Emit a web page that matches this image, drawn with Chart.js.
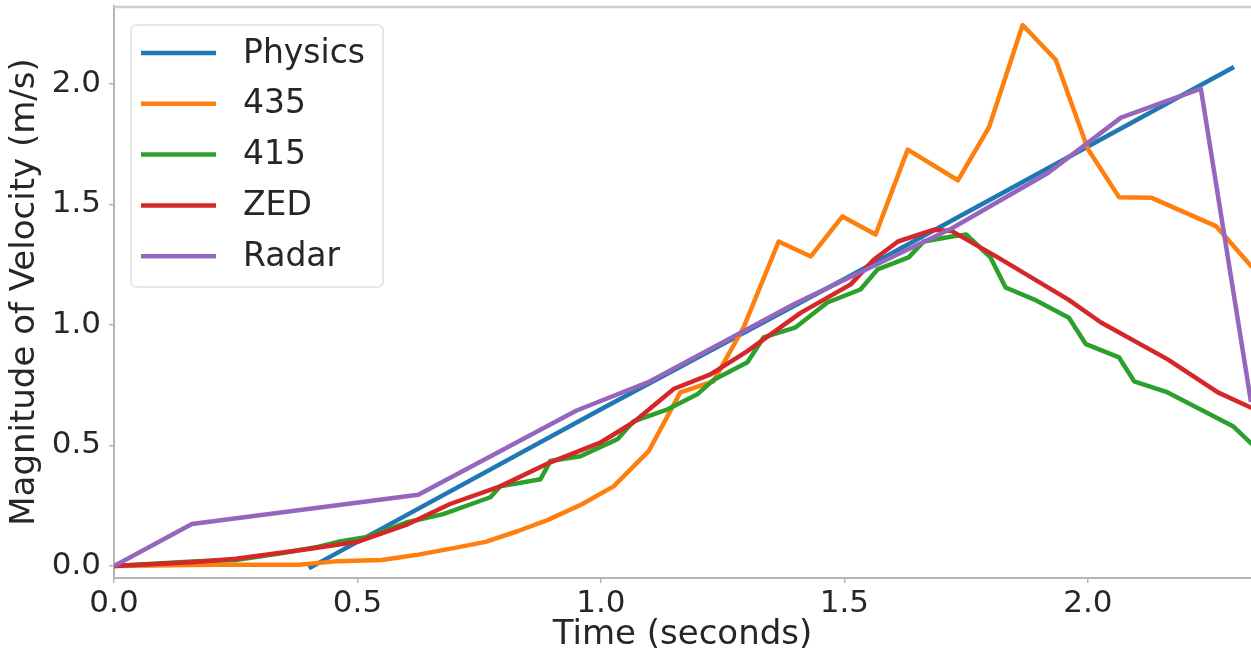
<!DOCTYPE html>
<html>
<head>
<meta charset="utf-8">
<script src="https://cdn.jsdelivr.net/npm/chart.js@4.4.0/dist/chart.umd.min.js"></script>
<style>
  html, body { margin: 0; padding: 0; background: #ffffff; }
  #c { display: block; }
</style>
</head>
<body>
<canvas id="c" width="1251" height="656"></canvas>
<script>
// ---------------- data ----------------
const seriesNames = ["Physics", "435", "415", "ZED", "Radar"];
const seriesColors = ["#1f77b4", "#ff7f0e", "#2ca02c", "#d62728", "#9467bd"];

const physicsT = [0.40, 1.00, 1.50, 2.00, 2.30];
const physicsV = [-0.01, 0.65, 1.19, 1.74, 2.07];

const t435 = [0, 0.20, 0.38, 0.46, 0.55, 0.62, 0.70, 0.763, 0.83, 0.89, 0.962, 1.026, 1.098, 1.163, 1.231, 1.293, 1.365, 1.431, 1.496, 1.564, 1.63, 1.733, 1.797, 1.866, 1.934, 2.0, 2.064, 2.13, 2.263, 2.337];
const v435 = [0, 0.005, 0.005, 0.02, 0.025, 0.045, 0.075, 0.10, 0.145, 0.19, 0.257, 0.33, 0.476, 0.72, 0.766, 0.99, 1.346, 1.284, 1.45, 1.375, 1.727, 1.60, 1.82, 2.244, 2.10, 1.73, 1.53, 1.528, 1.41, 1.24];

const t415 = [0, 0.17, 0.25, 0.35, 0.42, 0.46, 0.52, 0.60, 0.676, 0.773, 0.793, 0.876, 0.896, 0.958, 1.034, 1.067, 1.137, 1.198, 1.23, 1.301, 1.334, 1.40, 1.465, 1.533, 1.568, 1.632, 1.663, 1.718, 1.75, 1.80, 1.831, 1.89, 1.961, 1.996, 2.064, 2.095, 2.164, 2.298, 2.337];
const v415 = [0, 0.02, 0.025, 0.055, 0.08, 0.10, 0.12, 0.18, 0.215, 0.285, 0.33, 0.36, 0.435, 0.455, 0.526, 0.60, 0.65, 0.712, 0.77, 0.845, 0.948, 0.99, 1.093, 1.147, 1.23, 1.28, 1.346, 1.366, 1.375, 1.28, 1.155, 1.105, 1.03, 0.92, 0.865, 0.766, 0.72, 0.58, 0.505];

const tZED = [0, 0.16, 0.25, 0.40, 0.50, 0.60, 0.69, 0.793, 0.896, 1.0, 1.067, 1.15, 1.225, 1.30, 1.41, 1.513, 1.56, 1.61, 1.684, 1.72, 1.815, 1.96, 2.027, 2.164, 2.267, 2.337];
const vZED = [0, 0.015, 0.03, 0.07, 0.10, 0.17, 0.257, 0.33, 0.43, 0.513, 0.596, 0.735, 0.795, 0.89, 1.05, 1.168, 1.27, 1.346, 1.395, 1.39, 1.28, 1.105, 1.01, 0.857, 0.72, 0.655];

const tRadar = [0, 0.16, 0.625, 0.95, 1.10, 1.40, 1.72, 1.918, 2.068, 2.232, 2.335];
const vRadar = [0, 0.174, 0.295, 0.645, 0.765, 1.09, 1.40, 1.63, 1.86, 1.98, 0.68];

const xTicks = [0.0, 0.5, 1.0, 1.5, 2.0];
const yTicks = [0.0, 0.5, 1.0, 1.5, 2.0];
const xTitle = "Time (seconds)";
const yTitle = "Magnitude of Velocity (m/s)";

// ---------------- chart ----------------
const FONT = "'DejaVu Sans', 'Liberation Sans', sans-serif";
const pairs = (t, v) => t.map((x, i) => ({ x: x, y: v[i] }));
const allSeries = [
  pairs(physicsT, physicsV),
  pairs(t435, v435),
  pairs(t415, v415),
  pairs(tZED, vZED),
  pairs(tRadar, vRadar)
];

const datasets = allSeries.map((d, i) => ({
  label: seriesNames[i],
  data: d,
  borderColor: seriesColors[i],
  backgroundColor: seriesColors[i],
  borderWidth: 4.5,
  pointRadius: 0,
  tension: 0,
  fill: false,
  borderJoinStyle: 'round',
  borderCapStyle: 'butt',
  order: seriesNames.length - i   // later series drawn on top, as in the original
}));

const frameAndLegend = {
  id: 'frameAndLegend',
  afterDatasetsDraw(chart) {
    const ctx = chart.ctx;
    const a = chart.chartArea;
    ctx.save();
    // top spine
    ctx.strokeStyle = '#cfcfcf';
    ctx.lineWidth = 2.5;
    ctx.beginPath();
    ctx.moveTo(a.left, a.top + 1);
    ctx.lineTo(a.right, a.top + 1);
    ctx.stroke();

    // legend box
    const bx = a.left + 17, by = a.top + 19, bw = 252, bh = 262, r = 6;
    ctx.beginPath();
    ctx.moveTo(bx + r, by);
    ctx.lineTo(bx + bw - r, by);
    ctx.quadraticCurveTo(bx + bw, by, bx + bw, by + r);
    ctx.lineTo(bx + bw, by + bh - r);
    ctx.quadraticCurveTo(bx + bw, by + bh, bx + bw - r, by + bh);
    ctx.lineTo(bx + r, by + bh);
    ctx.quadraticCurveTo(bx, by + bh, bx, by + bh - r);
    ctx.lineTo(bx, by + r);
    ctx.quadraticCurveTo(bx, by, bx + r, by);
    ctx.closePath();
    ctx.fillStyle = 'rgba(255,255,255,0.85)';
    ctx.fill();
    ctx.strokeStyle = '#e0e0e0';
    ctx.lineWidth = 1.5;
    ctx.stroke();

    ctx.font = '33px ' + FONT;
    ctx.textBaseline = 'middle';
    ctx.textAlign = 'left';
    chart.data.datasets.forEach((ds, i) => {
      const y = by + 28 + i * 50.8;
      ctx.strokeStyle = ds.borderColor;
      ctx.lineWidth = 4.5;
      ctx.beginPath();
      ctx.moveTo(bx + 10, y);
      ctx.lineTo(bx + 85, y);
      ctx.stroke();
      ctx.fillStyle = '#262626';
      ctx.fillText(ds.label, bx + 112, y + 1);
    });
    ctx.restore();
  }
};

new Chart(document.getElementById('c'), {
  type: 'line',
  data: { datasets: datasets },
  options: {
    responsive: false,
    animation: false,
    devicePixelRatio: 1,
    layout: { padding: { top: 6, right: 0, left: 0, bottom: 0 } },
    plugins: {
      legend: { display: false },
      tooltip: { enabled: false }
    },
    scales: {
      x: {
        type: 'linear',
        min: 0,
        max: 2.335,
        afterBuildTicks: s => { s.ticks = xTicks.map(v => ({ value: v })); },
        afterFit: s => { s.height = 78; s.paddingLeft = 0; s.paddingRight = 0; },
        ticks: {
          font: { family: FONT, size: 31 },
          color: '#262626',
          padding: 2,
          maxRotation: 0,
          autoSkip: false,
          callback: v => Number(v).toFixed(1)
        },
        grid: {
          display: true,
          drawOnChartArea: false,
          drawTicks: true,
          tickLength: 5,
          color: '#b5b5b5',
          lineWidth: 1.5
        },
        border: { display: true, color: '#b5b5b5', width: 2 },
        title: {
          display: true,
          text: xTitle,
          font: { family: FONT, size: 34 },
          color: '#262626',
          padding: { top: 0, bottom: 0 }
        }
      },
      y: {
        type: 'linear',
        min: -0.05,
        max: 2.323,
        afterBuildTicks: s => { s.ticks = yTicks.map(v => ({ value: v })); },
        afterFit: s => { s.width = 114; s.paddingTop = 0; s.paddingBottom = 0; },
        ticks: {
          font: { family: FONT, size: 31 },
          color: '#262626',
          padding: 8,
          autoSkip: false,
          callback: v => Number(v).toFixed(1)
        },
        grid: {
          display: true,
          drawOnChartArea: false,
          drawTicks: true,
          tickLength: 5,
          color: '#b5b5b5',
          lineWidth: 1.5
        },
        border: { display: true, color: '#b5b5b5', width: 2 },
        title: {
          display: true,
          text: yTitle,
          font: { family: FONT, size: 34 },
          color: '#262626',
          padding: { top: 5, bottom: 0 }
        }
      }
    }
  },
  plugins: [frameAndLegend]
});
</script>
</body>
</html>
